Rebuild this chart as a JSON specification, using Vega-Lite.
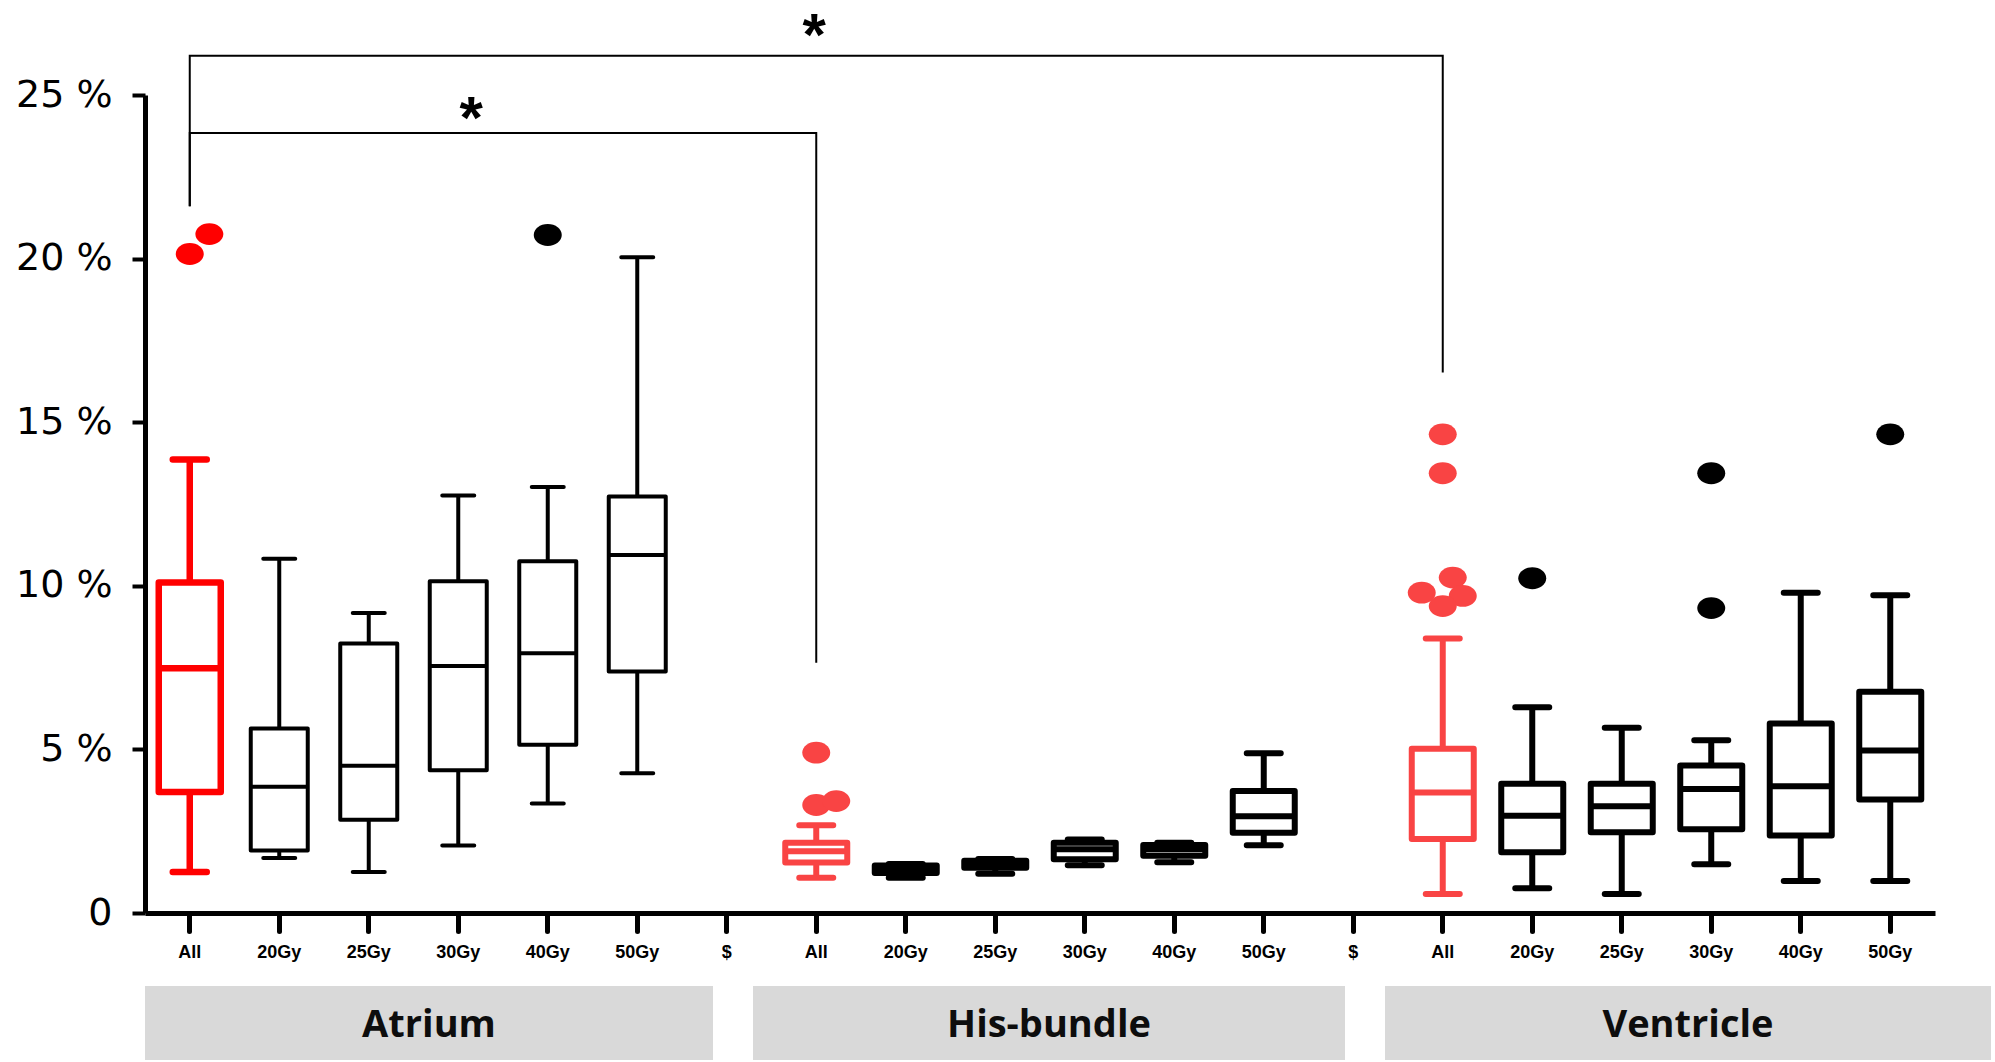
{
  "$schema": "https://vega.github.io/schema/vega-lite/v6.json",
  "background": "white",
  "padding": {"left": 15, "top": 7, "right": 0, "bottom": 0},
  "config": {"view": {"stroke": null}},
  "datasets": {
    "boxes": [
      {"cat": "A-All", "grp": "Atrium", "dose": "All", "lower": 1.25, "q1": 3.70, "median": 7.48, "q3": 10.10, "upper": 13.86},
      {"cat": "A-20Gy", "grp": "Atrium", "dose": "20Gy", "lower": 1.68, "q1": 1.91, "median": 3.86, "q3": 5.64, "upper": 10.83},
      {"cat": "A-25Gy", "grp": "Atrium", "dose": "25Gy", "lower": 1.25, "q1": 2.85, "median": 4.50, "q3": 8.24, "upper": 9.17},
      {"cat": "A-30Gy", "grp": "Atrium", "dose": "30Gy", "lower": 2.06, "q1": 4.36, "median": 7.55, "q3": 10.14, "upper": 12.76},
      {"cat": "A-40Gy", "grp": "Atrium", "dose": "40Gy", "lower": 3.35, "q1": 5.14, "median": 7.94, "q3": 10.75, "upper": 13.02},
      {"cat": "A-50Gy", "grp": "Atrium", "dose": "50Gy", "lower": 4.27, "q1": 7.38, "median": 10.94, "q3": 12.73, "upper": 20.04},
      {"cat": "H-All", "grp": "His", "dose": "All", "lower": 1.08, "q1": 1.54, "median": 1.89, "q3": 2.15, "upper": 2.68},
      {"cat": "H-20Gy", "grp": "His", "dose": "20Gy", "lower": 1.08, "q1": 1.22, "median": 1.35, "q3": 1.45, "upper": 1.50},
      {"cat": "H-25Gy", "grp": "His", "dose": "25Gy", "lower": 1.20, "q1": 1.38, "median": 1.50, "q3": 1.60, "upper": 1.65},
      {"cat": "H-30Gy", "grp": "His", "dose": "30Gy", "lower": 1.46, "q1": 1.64, "median": 1.95, "q3": 2.15, "upper": 2.25},
      {"cat": "H-40Gy", "grp": "His", "dose": "40Gy", "lower": 1.55, "q1": 1.75, "median": 1.95, "q3": 2.08, "upper": 2.15},
      {"cat": "H-50Gy", "grp": "His", "dose": "50Gy", "lower": 2.07, "q1": 2.45, "median": 2.96, "q3": 3.73, "upper": 4.88},
      {"cat": "V-All", "grp": "Ventricle", "dose": "All", "lower": 0.58, "q1": 2.26, "median": 3.68, "q3": 5.02, "upper": 8.39},
      {"cat": "V-20Gy", "grp": "Ventricle", "dose": "20Gy", "lower": 0.76, "q1": 1.86, "median": 2.97, "q3": 3.95, "upper": 6.29},
      {"cat": "V-25Gy", "grp": "Ventricle", "dose": "25Gy", "lower": 0.58, "q1": 2.47, "median": 3.26, "q3": 3.95, "upper": 5.66},
      {"cat": "V-30Gy", "grp": "Ventricle", "dose": "30Gy", "lower": 1.49, "q1": 2.56, "median": 3.79, "q3": 4.51, "upper": 5.28},
      {"cat": "V-40Gy", "grp": "Ventricle", "dose": "40Gy", "lower": 0.98, "q1": 2.37, "median": 3.87, "q3": 5.79, "upper": 9.79},
      {"cat": "V-50Gy", "grp": "Ventricle", "dose": "50Gy", "lower": 0.98, "q1": 3.47, "median": 4.97, "q3": 6.76, "upper": 9.71}
    ],
    "outliers": [
      {"cat": "A-All", "grp": "Atrium", "dose": "All", "value": 20.14, "off": 0},
      {"cat": "A-All", "grp": "Atrium", "dose": "All", "value": 20.75, "off": 0.98},
      {"cat": "A-40Gy", "grp": "Atrium", "dose": "40Gy", "value": 20.72, "off": 0},
      {"cat": "H-All", "grp": "His", "dose": "All", "value": 4.90, "off": 0},
      {"cat": "H-All", "grp": "His", "dose": "All", "value": 3.30, "off": 0},
      {"cat": "H-All", "grp": "His", "dose": "All", "value": 3.42, "off": 1},
      {"cat": "V-All", "grp": "Ventricle", "dose": "All", "value": 14.63, "off": 0},
      {"cat": "V-All", "grp": "Ventricle", "dose": "All", "value": 13.44, "off": 0},
      {"cat": "V-All", "grp": "Ventricle", "dose": "All", "value": 10.25, "off": 0.5},
      {"cat": "V-All", "grp": "Ventricle", "dose": "All", "value": 9.79, "off": -1.05},
      {"cat": "V-All", "grp": "Ventricle", "dose": "All", "value": 9.69, "off": 1},
      {"cat": "V-All", "grp": "Ventricle", "dose": "All", "value": 9.38, "off": 0},
      {"cat": "V-20Gy", "grp": "Ventricle", "dose": "20Gy", "value": 10.23, "off": 0},
      {"cat": "V-30Gy", "grp": "Ventricle", "dose": "30Gy", "value": 13.44, "off": 0},
      {"cat": "V-30Gy", "grp": "Ventricle", "dose": "30Gy", "value": 9.32, "off": 0},
      {"cat": "V-50Gy", "grp": "Ventricle", "dose": "50Gy", "value": 14.63, "off": 0}
    ],
    "brackets": [
      {"br": "Atrium vs His-bundle", "ord": 1, "cat": "A-All", "y": 21.6},
      {"br": "Atrium vs His-bundle", "ord": 2, "cat": "A-All", "y": 23.84},
      {"br": "Atrium vs His-bundle", "ord": 3, "cat": "H-All", "y": 23.84},
      {"br": "Atrium vs His-bundle", "ord": 4, "cat": "H-All", "y": 7.65},
      {"br": "Atrium vs Ventricle", "ord": 1, "cat": "A-All", "y": 21.6},
      {"br": "Atrium vs Ventricle", "ord": 2, "cat": "A-All", "y": 26.2},
      {"br": "Atrium vs Ventricle", "ord": 3, "cat": "V-All", "y": 26.2},
      {"br": "Atrium vs Ventricle", "ord": 4, "cat": "V-All", "y": 16.52}
    ],
    "stars": [
      {"br": "Atrium vs His-bundle", "cat": "A-30Gy", "y": 23.7, "t": "*"},
      {"br": "Atrium vs Ventricle", "cat": "H-All", "y": 26.21, "t": "*"}
    ],
    "groups": [
      {"grp": "Atrium"},
      {"grp": "His-bundle"},
      {"grp": "Ventricle"}
    ]
  },
  "vconcat": [
    {
      "width": 1790,
      "height": 818,
      "encoding": {
        "x": {
          "field": "cat",
          "type": "nominal",
          "scale": {
            "domain": ["A-All", "A-20Gy", "A-25Gy", "A-30Gy", "A-40Gy", "A-50Gy", "S1", "H-All", "H-20Gy", "H-25Gy", "H-30Gy", "H-40Gy", "H-50Gy", "S2", "V-All", "V-20Gy", "V-25Gy", "V-30Gy", "V-40Gy", "V-50Gy"],
            "paddingInner": 0,
            "paddingOuter": 0
          },
          "axis": {
            "title": null,
            "labelAngle": 0,
            "labelExpr": "indexof(datum.value, 'S') === 0 ? '$' : split(datum.value, '-')[1]",
            "labelFont": "Liberation Sans",
            "labelFontWeight": "bold",
            "labelFontSize": 18,
            "labelColor": "black",
            "labelPadding": 12,
            "domainColor": "black",
            "domainWidth": 5,
            "tickColor": "black",
            "tickWidth": 5,
            "tickSize": 18,
            "tickCap": "round",
            "grid": false
          }
        }
      },
      "layer": [
        {
          "data": {"name": "boxes"},
          "mark": {"type": "rule"},
          "encoding": {
            "y": {
              "field": "lower",
              "type": "quantitative",
              "scale": {"domain": [0, 25], "nice": false},
              "axis": {
                "title": null,
                "values": [0, 5, 10, 15, 20, 25],
                "labelExpr": "datum.value === 0 ? '0' : datum.value + ' %'",
                "labelFont": "DejaVu Sans",
                "labelFontSize": 38,
                "labelColor": "black",
                "labelPadding": 20,
                "domainColor": "black",
                "domainWidth": 5,
                "tickColor": "black",
                "tickWidth": 4,
                "tickSize": 13,
                "grid": false
              }
            },
            "y2": {"field": "upper"},
            "color": {
              "condition": [
                {"test": "datum.cat === 'A-All'", "value": "#ff0000"},
                {"test": "datum.dose === 'All'", "value": "#f94444"}
              ],
              "value": "black"
            },
            "strokeWidth": {
              "condition": [
                {"test": "datum.cat === 'A-All'", "value": 6.5},
                {"test": "datum.grp === 'Atrium'", "value": 4}
              ],
              "value": 6
            }
          }
        },
        {
          "data": {"name": "boxes"},
          "mark": {"type": "bar", "fill": "white", "strokeJoin": "round"},
          "encoding": {
            "y": {"field": "q1", "type": "quantitative", "scale": {"domain": [0, 25], "nice": false}},
            "y2": {"field": "q3"},
            "stroke": {
              "condition": [
                {"test": "datum.cat === 'A-All'", "value": "#ff0000"},
                {"test": "datum.dose === 'All'", "value": "#f94444"}
              ],
              "value": "black"
            },
            "strokeWidth": {
              "condition": [
                {"test": "datum.cat === 'A-All'", "value": 6.5},
                {"test": "datum.grp === 'Atrium'", "value": 4}
              ],
              "value": 6
            },
            "size": {
              "condition": [
                {"test": "datum.cat === 'A-All'", "value": 62},
                {"test": "datum.grp === 'Atrium'", "value": 57}
              ],
              "value": 62
            }
          }
        },
        {
          "data": {"name": "boxes"},
          "mark": {"type": "bar", "fill": "white", "fillOpacity": 0, "strokeJoin": "miter"},
          "encoding": {
            "y": {"field": "median", "type": "quantitative", "scale": {"domain": [0, 25], "nice": false}},
            "y2": {"field": "median"},
            "stroke": {
              "condition": [
                {"test": "datum.cat === 'A-All'", "value": "#ff0000"},
                {"test": "datum.dose === 'All'", "value": "#f94444"}
              ],
              "value": "black"
            },
            "strokeWidth": {
              "condition": [
                {"test": "datum.cat === 'A-All'", "value": 6.5},
                {"test": "datum.grp === 'Atrium'", "value": 4}
              ],
              "value": 6
            },
            "size": {
              "condition": [
                {"test": "datum.cat === 'A-All'", "value": 62},
                {"test": "datum.grp === 'Atrium'", "value": 57}
              ],
              "value": 62
            }
          }
        },
        {
          "data": {"name": "boxes"},
          "mark": {"type": "bar", "fill": "white", "fillOpacity": 0, "strokeJoin": "round"},
          "encoding": {
            "y": {"field": "upper", "type": "quantitative", "scale": {"domain": [0, 25], "nice": false}},
            "y2": {"field": "upper"},
            "stroke": {
              "condition": [
                {"test": "datum.cat === 'A-All'", "value": "#ff0000"},
                {"test": "datum.dose === 'All'", "value": "#f94444"}
              ],
              "value": "black"
            },
            "strokeWidth": {
              "condition": [
                {"test": "datum.cat === 'A-All'", "value": 6.5},
                {"test": "datum.grp === 'Atrium'", "value": 4}
              ],
              "value": 6
            },
            "size": {
              "condition": [
                {"test": "datum.cat === 'A-All'", "value": 34},
                {"test": "datum.grp === 'Atrium'", "value": 32}
              ],
              "value": 34
            }
          }
        },
        {
          "data": {"name": "boxes"},
          "mark": {"type": "bar", "fill": "white", "fillOpacity": 0, "strokeJoin": "round"},
          "encoding": {
            "y": {"field": "lower", "type": "quantitative", "scale": {"domain": [0, 25], "nice": false}},
            "y2": {"field": "lower"},
            "stroke": {
              "condition": [
                {"test": "datum.cat === 'A-All'", "value": "#ff0000"},
                {"test": "datum.dose === 'All'", "value": "#f94444"}
              ],
              "value": "black"
            },
            "strokeWidth": {
              "condition": [
                {"test": "datum.cat === 'A-All'", "value": 6.5},
                {"test": "datum.grp === 'Atrium'", "value": 4}
              ],
              "value": 6
            },
            "size": {
              "condition": [
                {"test": "datum.cat === 'A-All'", "value": 34},
                {"test": "datum.grp === 'Atrium'", "value": 32}
              ],
              "value": 34
            }
          }
        },
        {
          "data": {"name": "outliers"},
          "mark": {"type": "point", "filled": true, "opacity": 1, "shape": "M-1,0A1,0.78,0,1,0,1,0A1,0.78,0,1,0,-1,0Z", "size": 784},
          "encoding": {
            "y": {"field": "value", "type": "quantitative", "scale": {"domain": [0, 25], "nice": false}},
            "xOffset": {"field": "off", "type": "quantitative", "scale": {"domain": [-1, 1], "range": [24.75, 64.75]}},
            "color": {
              "condition": [
                {"test": "datum.cat === 'A-All'", "value": "#ff0000"},
                {"test": "datum.dose === 'All'", "value": "#f94444"}
              ],
              "value": "black"
            }
          }
        },
        {
          "data": {"name": "brackets"},
          "mark": {"type": "line", "color": "black", "strokeWidth": 2, "strokeJoin": "miter"},
          "encoding": {
            "y": {"field": "y", "type": "quantitative", "scale": {"domain": [0, 25], "nice": false}},
            "detail": {"field": "br"},
            "order": {"field": "ord", "type": "quantitative"}
          }
        },
        {
          "data": {"name": "stars"},
          "transform": [{"filter": "datum.cat === 'A-30Gy'"}],
          "mark": {"type": "text", "font": "Liberation Sans", "fontWeight": "bold", "fontSize": 60, "color": "black", "baseline": "alphabetic", "dx": 13},
          "encoding": {
            "y": {"field": "y", "type": "quantitative", "scale": {"domain": [0, 25], "nice": false}},
            "text": {"field": "t"}
          }
        },
        {
          "data": {"name": "stars"},
          "transform": [{"filter": "datum.cat === 'H-All'"}],
          "mark": {"type": "text", "font": "Liberation Sans", "fontWeight": "bold", "fontSize": 60, "color": "black", "baseline": "alphabetic", "dx": -2},
          "encoding": {
            "y": {"field": "y", "type": "quantitative", "scale": {"domain": [0, 25], "nice": false}},
            "text": {"field": "t"}
          }
        }
      ]
    },
    {
      "spacing": 40,
      "hconcat": [
        {
          "width": 568,
          "height": 74,
          "view": {"fill": "#d9d9d9", "stroke": null},
          "data": {"name": "groups"},
          "transform": [{"filter": "datum.grp === 'Atrium'"}],
          "mark": {"type": "text", "font": "Open Sans", "fontWeight": "bold", "fontSize": 38, "color": "#0d0d0d", "baseline": "middle", "dy": 3},
          "encoding": {"text": {"field": "grp"}}
        },
        {
          "width": 592,
          "height": 74,
          "view": {"fill": "#d9d9d9", "stroke": null},
          "data": {"name": "groups"},
          "transform": [{"filter": "datum.grp === 'His-bundle'"}],
          "mark": {"type": "text", "font": "Open Sans", "fontWeight": "bold", "fontSize": 38, "color": "#0d0d0d", "baseline": "middle", "dy": 3},
          "encoding": {"text": {"field": "grp"}}
        },
        {
          "width": 606,
          "height": 74,
          "view": {"fill": "#d9d9d9", "stroke": null},
          "data": {"name": "groups"},
          "transform": [{"filter": "datum.grp === 'Ventricle'"}],
          "mark": {"type": "text", "font": "Open Sans", "fontWeight": "bold", "fontSize": 38, "color": "#0d0d0d", "baseline": "middle", "dy": 3},
          "encoding": {"text": {"field": "grp"}}
        }
      ]
    }
  ],
  "spacing": 25,
  "resolve": {"scale": {"x": "independent", "y": "independent", "color": "independent"}}
}
